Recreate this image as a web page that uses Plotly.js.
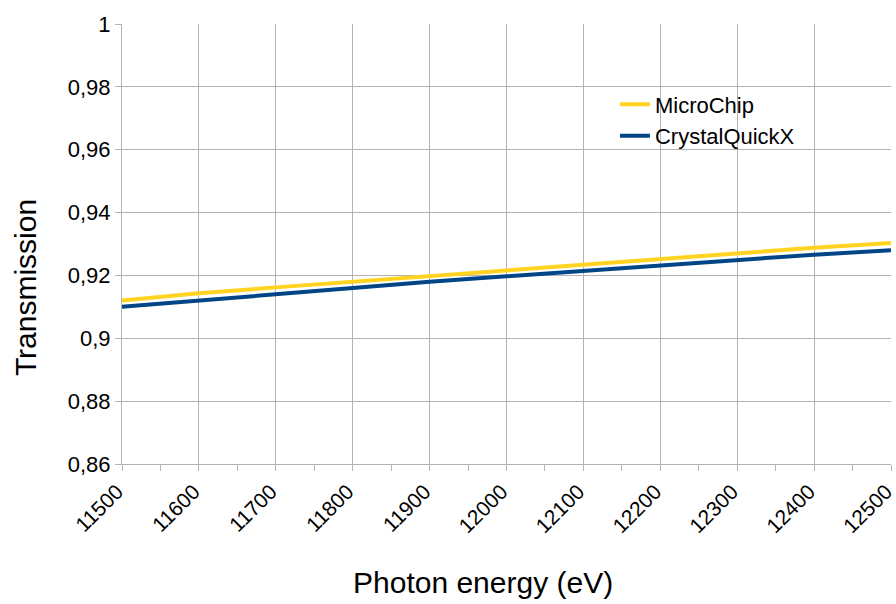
<!DOCTYPE html>
<html>
<head>
<meta charset="utf-8">
<script src="https://cdn.plot.ly/plotly-3.0.1.min.js"></script>
<style>html,body{margin:0;padding:0;background:#fff;}#chart{width:896px;height:604px;}</style>
</head>
<body>
<div id="chart"></div>
<script>
const energy = [11500, 11600, 11700, 11800, 11900, 12000, 12100, 12200, 12300, 12400, 12500];
const microChip = [0.9120, 0.9143, 0.9162, 0.9180, 0.9201, 0.9218, 0.9237, 0.9255, 0.9272, 0.9288, 0.9303];
const crystalQuickX = [0.9100, 0.9119, 0.9141, 0.9160, 0.9180, 0.9197, 0.9216, 0.9233, 0.9250, 0.9266, 0.9280];
const seriesNames = ['MicroChip', 'CrystalQuickX'];
const yTicks = [0.86, 0.88, 0.9, 0.92, 0.94, 0.96, 0.98, 1];
const xTicks = [11500, 11600, 11700, 11800, 11900, 12000, 12100, 12200, 12300, 12400, 12500];

const font = 'Liberation Sans, Arial, sans-serif';
const traces = [
  {x: energy, y: microChip, name: seriesNames[0], type: 'scatter', mode: 'lines',
   line: {color: '#ffd320', width: 4}, legendgroup: 'a'},
  {x: energy, y: crystalQuickX, name: seriesNames[1], type: 'scatter', mode: 'lines',
   line: {color: '#004586', width: 4}, legendgroup: 'b'}
];
const layout = {
  width: 896, height: 604,
  margin: {l: 122, r: 5, t: 24, b: 140},
  paper_bgcolor: '#fff', plot_bgcolor: '#fff',
  separators: ', ',
  font: {family: font, color: '#000', size: 22},
  showlegend: true,
  legend: {x: 0.641, y: 0.865, xanchor: 'left', yanchor: 'top', bgcolor: 'rgba(0,0,0,0)',
           font: {family: font, size: 22, color: '#000'}, tracegroupgap: 0},
  xaxis: {
    range: [11500, 12500], tickvals: xTicks, ticktext: xTicks.map(String),
    tickangle: -45, ticks: 'outside', ticklen: 6, tickcolor: '#b3b3b3',
    ticklabeloverflow: 'allow', ticklabelshift: -5,
    showgrid: true, gridcolor: '#b3b3b3', gridwidth: 1,
    showline: true, linecolor: '#b3b3b3', linewidth: 1, mirror: false, zeroline: false,
    tickfont: {family: font, size: 21, color: '#000'},
    minor: {dtick: 50, tick0: 11500, ticks: 'outside', ticklen: 6, tickcolor: '#b3b3b3', showgrid: false}
  },
  yaxis: {
    range: [0.86, 1], tickvals: yTicks, tickformat: '.2~f',
    ticks: 'outside', ticklen: 6, tickcolor: '#b3b3b3',
    showgrid: true, gridcolor: '#b3b3b3', gridwidth: 1,
    showline: true, linecolor: '#b3b3b3', linewidth: 1, zeroline: false,
    tickfont: {family: font, size: 22, color: '#000'}
  },
  annotations: [
    {text: 'Photon energy (eV)', xref: 'paper', yref: 'paper', x: 0.469, y: -0.27,
     xanchor: 'center', yanchor: 'middle', showarrow: false, font: {family: font, size: 30, color: '#000'}},
    {text: 'Transmission', xref: 'paper', yref: 'paper', x: -0.126, y: 0.4, textangle: -90,
     xanchor: 'center', yanchor: 'middle', showarrow: false, font: {family: font, size: 30, color: '#000'}}
  ]
};
Plotly.newPlot('chart', traces, layout, {displayModeBar: false, staticPlot: true});
</script>
</body>
</html>
